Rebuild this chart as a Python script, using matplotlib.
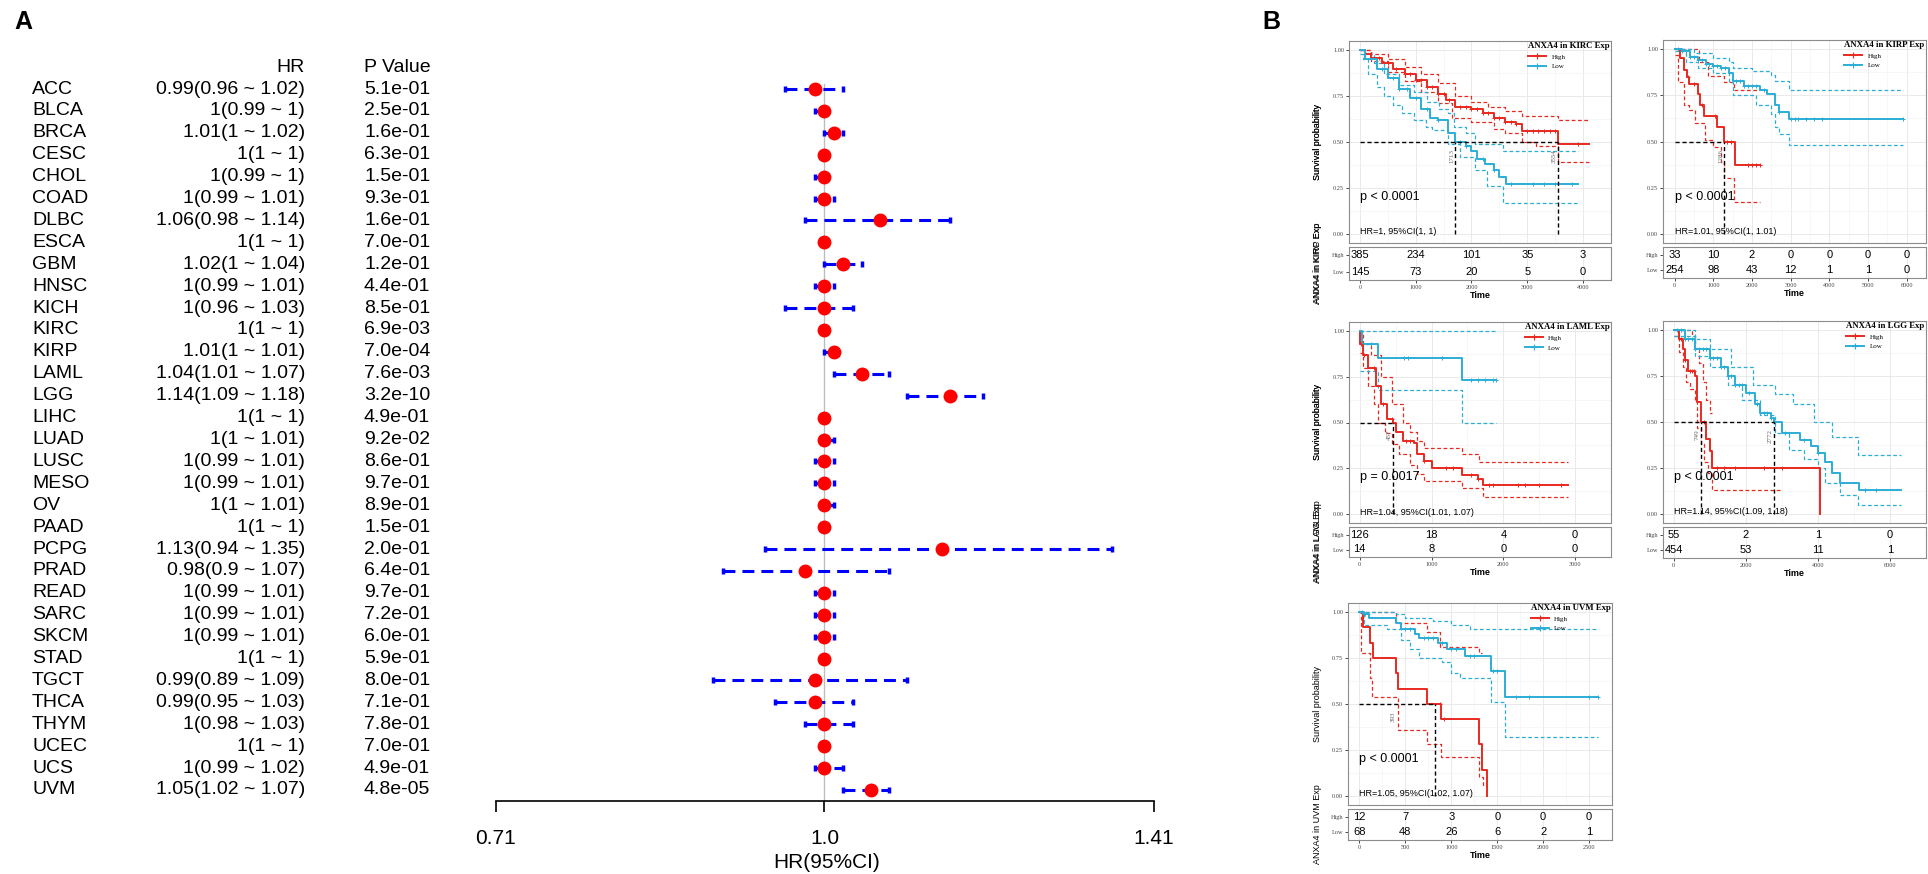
import numpy as np
import matplotlib
matplotlib.use('Agg')
import matplotlib.pyplot as plt
from matplotlib.lines import Line2D
from matplotlib import transforms
from matplotlib.ticker import NullLocator

plt.rcParams['font.family'] = ['Liberation Sans', 'DejaVu Sans']
SERIF = 'Liberation Serif'

# ---------------- panel A data ----------------
cancers = ['ACC', 'BLCA', 'BRCA', 'CESC', 'CHOL', 'COAD', 'DLBC', 'ESCA', 'GBM', 'HNSC',
           'KICH', 'KIRC', 'KIRP', 'LAML', 'LGG', 'LIHC', 'LUAD', 'LUSC', 'MESO', 'OV',
           'PAAD', 'PCPG', 'PRAD', 'READ', 'SARC', 'SKCM', 'STAD', 'TGCT', 'THCA', 'THYM',
           'UCEC', 'UCS', 'UVM']
hr = [0.99, 1, 1.01, 1, 1, 1, 1.06, 1, 1.02, 1, 1, 1, 1.01, 1.04, 1.14, 1, 1, 1, 1, 1,
      1, 1.13, 0.98, 1, 1, 1, 1, 0.99, 0.99, 1, 1, 1, 1.05]
hr_lo = [0.96, 0.99, 1, 1, 0.99, 0.99, 0.98, 1, 1, 0.99, 0.96, 1, 1, 1.01, 1.09, 1, 1, 0.99,
         0.99, 1, 1, 0.94, 0.9, 0.99, 0.99, 0.99, 1, 0.89, 0.95, 0.98, 1, 0.99, 1.02]
hr_hi = [1.02, 1, 1.02, 1, 1, 1.01, 1.14, 1, 1.04, 1.01, 1.03, 1, 1.01, 1.07, 1.18, 1, 1.01,
         1.01, 1.01, 1.01, 1, 1.35, 1.07, 1.01, 1.01, 1.01, 1, 1.09, 1.03, 1.03, 1, 1.02, 1.07]
pvals = ['5.1e-01', '2.5e-01', '1.6e-01', '6.3e-01', '1.5e-01', '9.3e-01', '1.6e-01', '7.0e-01',
         '1.2e-01', '4.4e-01', '8.5e-01', '6.9e-03', '7.0e-04', '7.6e-03', '3.2e-10', '4.9e-01',
         '9.2e-02', '8.6e-01', '9.7e-01', '8.9e-01', '1.5e-01', '2.0e-01', '6.4e-01', '9.7e-01',
         '7.2e-01', '6.0e-01', '5.9e-01', '8.0e-01', '7.1e-01', '7.8e-01', '7.0e-01', '4.9e-01',
         '4.8e-05']
forest_ticks = [0.71, 1.0, 1.41]

# ---------------- panel B data: (time, survival) steps ----------------
kirc_high = [(0, 1.0), (100, 0.98), (200, 0.96), (400, 0.93), (600, 0.90), (800, 0.87), (1000, 0.84),
             (1200, 0.80), (1400, 0.76), (1550, 0.73), (1700, 0.69), (2000, 0.68), (2200, 0.66),
             (2400, 0.63), (2600, 0.61), (2800, 0.60), (2900, 0.56), (3554, 0.49), (4100, 0.49)]
kirc_high_up = [(0, 1.0), (200, 0.98), (500, 0.95), (800, 0.91), (1100, 0.87), (1400, 0.82), (1700, 0.75),
                (2000, 0.72), (2300, 0.69), (2600, 0.67), (2900, 0.64), (3554, 0.62), (4100, 0.62)]
kirc_high_lo = [(0, 1.0), (200, 0.94), (500, 0.88), (800, 0.83), (1100, 0.77), (1400, 0.71), (1650, 0.63),
                (2000, 0.61), (2400, 0.57), (2600, 0.55), (2900, 0.50), (3150, 0.48), (3554, 0.39),
                (4100, 0.39)]
kirc_high_cens = [350, 500, 650, 800, 900, 1000, 1100, 1200, 1300, 1400, 1500, 1600, 1800, 1900, 2000,
                  2100, 2200, 2300, 2400, 2500, 2600, 2700, 2800, 3000, 3100, 3200, 3300, 3400, 3500, 3900]
kirc_low = [(0, 1.0), (100, 0.95), (300, 0.90), (500, 0.85), (700, 0.79), (900, 0.74), (1100, 0.68),
            (1250, 0.63), (1400, 0.62), (1580, 0.55), (1700, 0.50), (1900, 0.48), (2000, 0.45),
            (2100, 0.41), (2250, 0.38), (2400, 0.35), (2500, 0.31), (2620, 0.27), (3900, 0.27)]
kirc_low_up = [(0, 1.0), (100, 0.98), (250, 0.93), (430, 0.87), (700, 0.81), (970, 0.77), (1200, 0.72),
               (1410, 0.68), (1580, 0.66), (1680, 0.58), (1900, 0.55), (2070, 0.49), (2560, 0.45),
               (3900, 0.45)]
kirc_low_lo = [(0, 0.98), (50, 0.95), (150, 0.87), (300, 0.80), (430, 0.75), (600, 0.70), (750, 0.66),
               (970, 0.62), (1190, 0.58), (1300, 0.565), (1580, 0.49), (1800, 0.42), (2070, 0.35),
               (2280, 0.26), (2560, 0.17), (3900, 0.17)]
kirc_low_cens = [400, 600, 700, 850, 1000, 1200, 1400, 1800, 1900, 2200, 2400, 2700, 3100, 3300, 3500, 3800]
kirc_risk_t = [0, 1000, 2000, 3000, 4000]
kirc_risk_high = [385, 234, 101, 35, 3]
kirc_risk_low = [145, 73, 20, 5, 0]

kirp_high = [(0, 1.0), (150, 0.95), (250, 0.89), (330, 0.85), (380, 0.81), (600, 0.76), (650, 0.70),
             (750, 0.64), (1100, 0.58), (1286, 0.50), (1550, 0.37), (2200, 0.37)]
kirp_high_up = [(0, 1.0), (620, 0.93), (870, 0.855), (1286, 0.82), (1540, 0.78), (2200, 0.78)]
kirp_high_lo = [(0, 0.97), (80, 0.82), (250, 0.70), (375, 0.67), (540, 0.60), (790, 0.51), (1000, 0.47),
                (1210, 0.39), (1286, 0.30), (1540, 0.17), (2200, 0.17)]
kirp_high_cens = [350, 500, 700, 1050, 1350, 1450, 1900, 2000, 2100, 2200]
kirp_low = [(0, 1.0), (200, 0.99), (400, 0.96), (600, 0.94), (800, 0.92), (1000, 0.91), (1200, 0.90),
            (1400, 0.87), (1500, 0.83), (1800, 0.80), (2200, 0.78), (2400, 0.76), (2600, 0.70),
            (2700, 0.66), (2950, 0.62), (5900, 0.62)]
kirp_low_up = [(0, 1.0), (500, 0.98), (1000, 0.95), (1400, 0.93), (1500, 0.90), (2000, 0.88),
               (2500, 0.86), (2600, 0.83), (2950, 0.78), (5900, 0.78)]
kirp_low_lo = [(0, 0.99), (300, 0.93), (600, 0.90), (1000, 0.87), (1400, 0.82), (1500, 0.75),
               (2100, 0.70), (2500, 0.65), (2600, 0.58), (2700, 0.54), (2950, 0.48), (5900, 0.48)]
kirp_low_cens = [100, 200, 300, 400, 500, 600, 700, 800, 900, 1000, 1100, 1200, 1300, 1600, 1700, 1800,
                 1900, 2000, 2100, 2300, 2700, 3000, 3100, 3200, 3400, 3600, 3800, 5900]
kirp_risk_t = [0, 1000, 2000, 3000, 4000, 5000, 6000]
kirp_risk_high = [33, 10, 2, 0, 0, 0, 0]
kirp_risk_low = [254, 98, 43, 12, 1, 1, 0]

laml_high = [(0, 1.0), (10, 0.93), (50, 0.87), (120, 0.80), (230, 0.70), (300, 0.60), (380, 0.52),
             (457, 0.50), (500, 0.45), (600, 0.40), (750, 0.39), (800, 0.33), (900, 0.29), (1000, 0.25),
             (1420, 0.21), (1650, 0.19), (1720, 0.16), (2900, 0.16)]
laml_high_up = [(0, 1.0), (50, 0.93), (150, 0.87), (300, 0.75), (450, 0.60), (600, 0.50), (700, 0.45),
                (800, 0.40), (900, 0.36), (1420, 0.33), (1660, 0.285), (2900, 0.285)]
laml_high_lo = [(0, 0.88), (50, 0.80), (120, 0.70), (200, 0.60), (260, 0.50), (350, 0.44), (450, 0.38),
                (550, 0.33), (700, 0.27), (800, 0.22), (900, 0.18), (1420, 0.14), (1720, 0.09), (2900, 0.09)]
laml_high_cens = [20, 60, 200, 320, 450, 650, 700, 900, 1200, 1300, 1550, 1650, 1800, 1850, 2200, 2300,
                  2500, 2800]
laml_low = [(0, 1.0), (30, 0.93), (250, 0.855), (1420, 0.73), (1900, 0.73)]
laml_low_up = [(0, 1.0), (1900, 1.0)]
laml_low_lo = [(0, 0.78), (250, 0.68), (1420, 0.50), (1900, 0.50)]
laml_low_cens = [150, 620, 670, 1150, 1550, 1650, 1750, 1850, 1900]
laml_risk_t = [0, 1000, 2000, 3000]
laml_risk_high = [126, 18, 4, 0]
laml_risk_low = [14, 8, 0, 0]

lgg_high = [(0, 1.0), (150, 0.95), (250, 0.90), (300, 0.84), (400, 0.78), (600, 0.75), (650, 0.61),
            (749, 0.50), (900, 0.41), (1000, 0.34), (1050, 0.25), (4050, 0.25), (4050, 0.0)]
lgg_high_up = [(0, 1.0), (500, 0.97), (600, 0.90), (700, 0.82), (800, 0.72), (900, 0.62), (1000, 0.55),
               (1050, 0.55)]
lgg_high_lo = [(0, 0.97), (150, 0.88), (250, 0.80), (350, 0.72), (450, 0.68), (600, 0.62), (650, 0.47),
               (750, 0.38), (850, 0.28), (950, 0.22), (1050, 0.13), (3000, 0.13)]
lgg_high_cens = [200, 300, 450, 500, 550, 850, 1200, 1400, 1700, 2500, 3000]
lgg_low = [(0, 1.0), (300, 0.95), (600, 0.90), (1000, 0.85), (1300, 0.80), (1500, 0.75), (1700, 0.70),
           (2000, 0.66), (2250, 0.60), (2400, 0.55), (2700, 0.52), (2772, 0.50), (3000, 0.44),
           (3500, 0.40), (3800, 0.37), (4000, 0.33), (4200, 0.28), (4400, 0.22), (4600, 0.17),
           (5150, 0.13), (6300, 0.13)]
lgg_low_up = [(0, 1.0), (600, 0.95), (1000, 0.90), (1600, 0.80), (2200, 0.70), (2800, 0.65), (3300, 0.60),
              (3900, 0.50), (4400, 0.42), (5100, 0.32), (6300, 0.32)]
lgg_low_lo = [(0, 0.97), (600, 0.86), (1000, 0.80), (1500, 0.70), (1900, 0.62), (2400, 0.54), (2800, 0.44),
              (3200, 0.35), (3600, 0.30), (4000, 0.25), (4200, 0.17), (4600, 0.10), (5100, 0.05),
              (6300, 0.05)]
lgg_low_cens = [100, 200, 300, 400, 500, 600, 700, 800, 900, 1000, 1100, 1200, 1300, 1400, 1500, 1600,
                1700, 1800, 1900, 2100, 2300, 2500, 2600, 2700, 3100, 3600, 4000, 5300, 5600]
lgg_risk_t = [0, 2000, 4000, 6000]
lgg_risk_high = [55, 2, 1, 0]
lgg_risk_low = [454, 53, 11, 1]

uvm_high = [(0, 1.0), (40, 0.92), (120, 0.83), (150, 0.75), (400, 0.67), (420, 0.58), (740, 0.50),
            (890, 0.42), (1300, 0.28), (1330, 0.14), (1390, 0.0)]
uvm_high_up = [(0, 1.0), (400, 0.94), (730, 0.89), (880, 0.81), (1300, 0.78), (1330, 0.78)]
uvm_high_lo = [(0, 1.0), (20, 0.78), (120, 0.64), (140, 0.54), (420, 0.36), (740, 0.28), (890, 0.21),
               (1300, 0.10), (1350, 0.04)]
uvm_high_cens = [880, 920]
uvm_low = [(0, 1.0), (50, 0.99), (100, 0.97), (400, 0.94), (450, 0.91), (600, 0.88), (650, 0.86),
           (850, 0.83), (950, 0.80), (1150, 0.76), (1430, 0.68), (1580, 0.54), (2600, 0.54)]
uvm_low_up = [(0, 1.0), (400, 0.99), (500, 0.97), (800, 0.95), (1000, 0.93), (1200, 0.91), (2600, 0.91)]
uvm_low_lo = [(0, 1.0), (50, 0.93), (300, 0.91), (450, 0.85), (550, 0.80), (650, 0.75), (900, 0.73),
              (1000, 0.67), (1100, 0.64), (1430, 0.51), (1580, 0.32), (2600, 0.32)]
uvm_low_cens = [30, 60, 90, 500, 550, 700, 750, 800, 900, 1000, 1050, 1200, 1250, 1450, 1500, 1700,
                1850, 2500, 2600]
uvm_risk_t = [0, 500, 1000, 1500, 2000, 2500]
uvm_risk_high = [12, 7, 3, 0, 0, 0]
uvm_risk_low = [68, 48, 26, 6, 2, 1]

RED = '#E8291F'
BLUE = '#2BAED6'

W, H = 1928, 874
fig = plt.figure(figsize=(W / 100, H / 100), dpi=100)


def px_axes(x0, y0, x1, y1):
    return fig.add_axes([x0 / W, 1 - y1 / H, (x1 - x0) / W, (y1 - y0) / H])


# ================= Panel A: forest plot =================
axf = px_axes(496, 60, 1154, 801)
axf.set_xscale('log')
axf.set_xlim(0.71, 1.41)
row0, step = 89, (790 - 89) / 32
ybot = (801 - row0) / step
axf.set_ylim(ybot, (60 - row0) / step)
rows = np.arange(len(cancers))

axf.plot([1, 1], [-0.25, ybot], color='#BDBDBD', lw=1, zorder=1)
for i in rows:
    if hr_hi[i] > hr_lo[i]:
        axf.plot([hr_lo[i], hr_hi[i]], [i, i], color='#0000FF', lw=2.2,
                 ls=(0, (3.9, 2.3)), dash_capstyle='butt', zorder=2)
        axf.plot([hr_lo[i], hr_hi[i]], [i, i], ls='none', marker='|', ms=5,
                 mew=2.5, color='#0000FF', zorder=2)
axf.plot(hr, rows, 'o', color='#FF0000', ms=9, zorder=3)

for s in ['top', 'left', 'right']:
    axf.spines[s].set_visible(False)
axf.spines['bottom'].set_linewidth(1.2)
axf.set_xticks(forest_ticks)
axf.set_xticklabels(['0.71', '1.0', '1.41'])
axf.xaxis.set_minor_locator(NullLocator())
axf.set_yticks([])
axf.tick_params(axis='x', length=8, width=1.2, labelsize=15, pad=12)
fig.text(827 / W, 1 - 863 / H, 'HR(95%CI)', ha='center', va='center', fontsize=15)

tr = transforms.blended_transform_factory(fig.transFigure, axf.transData)
hdr_y = (68 - row0) / step
axf.text(305 / W, hdr_y, 'HR', transform=tr, ha='right', va='center', fontsize=14)
axf.text(364 / W, hdr_y, 'P Value', transform=tr, ha='left', va='center', fontsize=14)


def fmt(v):
    return ('%.2f' % v).rstrip('0').rstrip('.') if v != 1 else '1'


for i in rows:
    axf.text(32 / W, i, cancers[i], transform=tr, ha='left', va='center', fontsize=14)
    txt = '%s(%s ~ %s)' % (fmt(hr[i]), fmt(hr_lo[i]), fmt(hr_hi[i]))
    axf.text(305 / W, i, txt, transform=tr, ha='right', va='center', fontsize=14)
    axf.text(364 / W, i, pvals[i], transform=tr, ha='left', va='center', fontsize=14)

fig.text(14 / W, 1 - 22 / H, 'A', fontsize=18, fontweight='bold', va='center')
fig.text(1262 / W, 1 - 22 / H, 'B', fontsize=18, fontweight='bold', va='center')


# ================= Panel B: KM curves =================
def pts_xy(pts):
    return [p[0] for p in pts], [p[1] for p in pts]


def surv_at(pts, t):
    ts, ss = pts_xy(pts)
    idx = np.searchsorted(ts, t, side='right') - 1
    return np.array(ss)[np.clip(idx, 0, len(ss) - 1)]


def draw_km(box, name, tmax, groups, risk_t, risk_high, risk_low, medians,
            ptext, hrtext):
    x0, y0, x1, y1, r1 = box
    ax = px_axes(x0, y0, x1, y1)
    axr = px_axes(x0, y1 + 4, x1, r1)
    xl = (-0.05 * tmax, 1.05 * tmax)
    gap = risk_t[1] - risk_t[0]

    for a in (ax, axr):
        a.set_xlim(*xl)
        a.set_xticks(risk_t)
        a.set_xticks([t + gap / 2 for t in risk_t], minor=True)
        for s in a.spines.values():
            s.set_color('#8C8C8C')
            s.set_linewidth(0.8)
        a.set_axisbelow(True)
        a.tick_params(which='minor', length=0)

    ax.set_ylim(-0.05, 1.05)
    ax.set_yticks([0, 0.25, 0.5, 0.75, 1.0])
    ax.set_yticks([0.125, 0.375, 0.625, 0.875], minor=True)
    ax.grid(True, which='major', color='#E6E6E6', lw=0.6)
    ax.grid(True, which='minor', color='#F2F2F2', lw=0.4)
    ax.set_yticklabels(['0.00', '0.25', '0.50', '0.75', '1.00'], fontfamily=SERIF,
                       fontsize=4.5, color='#444444')
    ax.tick_params(axis='y', length=2, width=0.5, pad=1.5)
    ax.tick_params(axis='x', length=0, labelbottom=False)
    ax.set_ylabel('Survival probability', fontsize=6.5)
    ax.yaxis.set_label_coords((1322 - x0) / (x1 - x0), 0.5)

    handles = []
    for label, color, curve, up, lo, cens in groups:
        t, s = pts_xy(up)
        ax.step(t, s, where='post', color=color, lw=0.9, ls=(0, (3, 2)), zorder=3)
        t, s = pts_xy(lo)
        ax.step(t, s, where='post', color=color, lw=0.9, ls=(0, (3, 2)), zorder=3)
        t, s = pts_xy(curve)
        ax.step(t, s, where='post', color=color, lw=1.4, zorder=4)
        ax.plot(cens, surv_at(curve, cens), ls='none', marker='+', ms=3.5, mew=0.7,
                color=color, zorder=5)
        handles.append(Line2D([], [], color=color, lw=1.4, marker='+', ms=4, mew=0.8))

    # median survival lines
    mts = [m[0] for m in medians]
    ax.plot([0, max(mts)], [0.5, 0.5], color='black', lw=1.0, ls=(0, (3, 2)), zorder=6)
    for mt, mlabel, mx in medians:
        ax.plot([mt, mt], [0, 0.5], color='black', lw=1.0, ls=(0, (3, 2)), zorder=6)
        ax.text(mx, 0.46, mlabel, rotation=90, ha='right', va='top', fontsize=5,
                fontfamily=SERIF, color='#666666', zorder=7)

    leg = ax.legend(handles, ['High', 'Low'], title='ANXA4 in %s Exp' % name,
                    loc='upper right', bbox_to_anchor=(1.01, 1.015), frameon=False,
                    prop={'family': SERIF, 'size': 5}, handlelength=2.6,
                    labelspacing=0.55, alignment='left', borderaxespad=0.2,
                    title_fontproperties={'family': SERIF, 'size': 6.3, 'weight': 'bold'})
    leg.set_zorder(8)

    ax.text(0, 0.2, ptext, ha='left', va='center', fontsize=9, zorder=8)
    ax.text(0, 0.01, hrtext, ha='left', va='center', fontsize=6.5, zorder=8)

    # risk table
    axr.set_ylim(0, 2)
    axr.set_yticks([1.5, 0.5])
    axr.set_yticklabels(['High', 'Low'], fontfamily=SERIF, fontsize=4.5, color='#444444')
    axr.tick_params(axis='y', length=2, width=0.5, pad=1.5)
    axr.tick_params(axis='x', length=2, width=0.5, pad=1.5)
    axr.set_xticklabels([str(t) for t in risk_t], fontfamily=SERIF, fontsize=4.5,
                        color='#444444')
    axr.grid(True, axis='x', which='major', color='#E6E6E6', lw=0.6)
    for t, nh, nl in zip(risk_t, risk_high, risk_low):
        axr.text(t, 1.5, str(nh), ha='center', va='center', fontsize=8)
        axr.text(t, 0.5, str(nl), ha='center', va='center', fontsize=8)
    axr.set_xlabel('Time', fontsize=6.5, fontweight='bold', labelpad=1)
    axr.set_ylabel('ANXA4 in %s Exp' % name, fontsize=6.5)
    axr.yaxis.set_label_coords((1322 - x0) / (x1 - x0), 0.5)


draw_km((1349, 41, 1611, 243, 280), 'KIRC', 3900,
        [('High', RED, kirc_high, kirc_high_up, kirc_high_lo, kirc_high_cens),
         ('Low', BLUE, kirc_low, kirc_low_up, kirc_low_lo, kirc_low_cens)],
        kirc_risk_t, kirc_risk_high, kirc_risk_low,
        [(1713, '1713', 1690), (3554, '3554', 3530)],
        'p < 0.0001', 'HR=1, 95%CI(1, 1)')

draw_km((1663, 40, 1926, 243, 278), 'KIRP', 6000,
        [('High', RED, kirp_high, kirp_high_up, kirp_high_lo, kirp_high_cens),
         ('Low', BLUE, kirp_low, kirp_low_up, kirp_low_lo, kirp_low_cens)],
        kirp_risk_t, kirp_risk_high, kirp_risk_low,
        [(1286, '1286', 1250)],
        'p < 0.0001', 'HR=1.01, 95%CI(1, 1.01)')

draw_km((1349, 322, 1611, 523, 557), 'LAML', 3000,
        [('High', RED, laml_high, laml_high_up, laml_high_lo, laml_high_cens),
         ('Low', BLUE, laml_low, laml_low_up, laml_low_lo, laml_low_cens)],
        laml_risk_t, laml_risk_high, laml_risk_low,
        [(457, '457', 440)],
        'p = 0.0017', 'HR=1.04, 95%CI(1.01, 1.07)')

draw_km((1663, 321, 1926, 523, 558), 'LGG', 6000,
        [('High', RED, lgg_high, lgg_high_up, lgg_high_lo, lgg_high_cens),
         ('Low', BLUE, lgg_low, lgg_low_up, lgg_low_lo, lgg_low_cens)],
        lgg_risk_t, lgg_risk_high, lgg_risk_low,
        [(749, '749', 720), (2772, '2772', 2740)],
        'p < 0.0001', 'HR=1.14, 95%CI(1.09, 1.18)')

draw_km((1348, 603, 1612, 805, 840), 'UVM', 2500,
        [('High', RED, uvm_high, uvm_high_up, uvm_high_lo, uvm_high_cens),
         ('Low', BLUE, uvm_low, uvm_low_up, uvm_low_lo, uvm_low_cens)],
        uvm_risk_t, uvm_risk_high, uvm_risk_low,
        [(820, '393', 390)],
        'p < 0.0001', 'HR=1.05, 95%CI(1.02, 1.07)')

fig.savefig('out.png', dpi=100)
